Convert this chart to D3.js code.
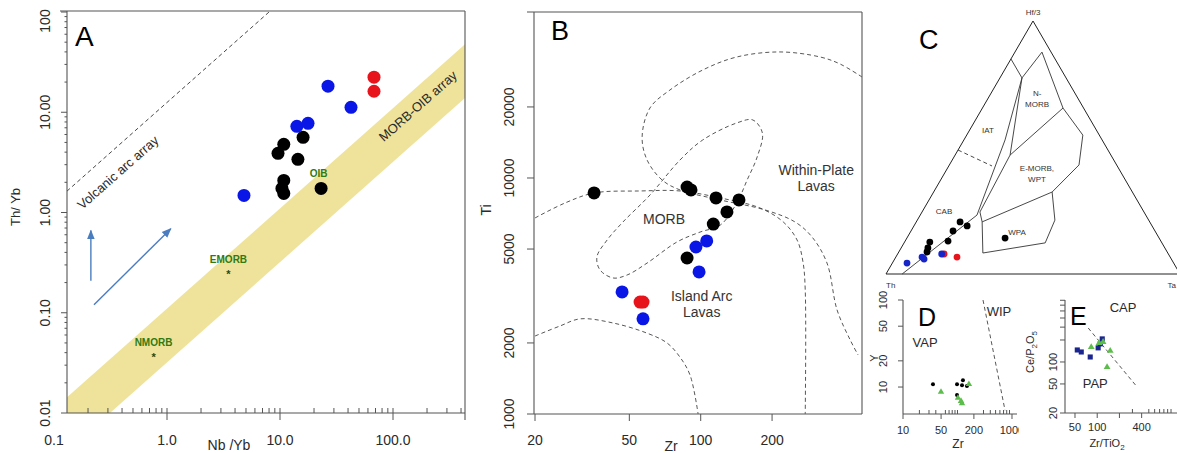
<!DOCTYPE html>
<html>
<head>
<meta charset="UTF-8">
<title>Discrimination diagrams A-E</title>
<script src="https://d3js.org/d3.v7.min.js"></script>
<style>
  body { margin: 0; background: #fff; }
  svg { display: block; font-family: "Liberation Sans", Arial, sans-serif; }
</style>
</head>
<body>
<svg id="fig" width="1177" height="453"></svg>
<script>
// ---------------- data ----------------
// Panel A : Th/Yb vs Nb/Yb  [Nb/Yb, Th/Yb]
const aBlack = [[10.8,4.79],[9.6,3.89],[16.0,5.62],[14.4,3.39],[10.8,2.09],[10.4,1.74],[10.8,1.55],[23.1,1.74]];
const aBlue  = [[4.8,1.48],[26.6,18.2],[42.5,11.2],[14.1,7.24],[17.7,7.76]];
const aRed   = [[67.9,22.4],[67.9,16.2]];
const aRefNames = ["NMORB","EMORB","OIB"];
const aRefPts   = [[0.76,0.037],[3.5,0.25],[22,1.76]];
const aBand = [[0.12,0.01],[0.12,0.0132],[434,47.7],[434,13.9],[0.313,0.01]];
const aArcLine = [[0.13,1.63],[8,100]];
const aArrows = [[[0.212,0.209],[0.212,0.66]], [[0.226,0.12],[1.08,0.69]]];
const aXTicks = [0.1, 1, 10, 100];
const aXLabels = ["0.1","1.0","10.0","100.0"];
const aYTicks = [0.01, 0.1, 1, 10, 100];
const aYLabels = ["0.01","0.10","1.00","10.00","100"];

// Panel B : Ti vs Zr  [Zr, Ti]
const bBlack = [[35.5,8640],[87.6,9160],[91,8900],[116,8230],[145,8070],[129,7180],[113,6380],[87.6,4580]];
const bBlue  = [[95.5,5100],[106,5410],[98.4,4000],[46.6,3290],[57.1,2530]];
const bRed   = [[55.5,2980],[57.1,2980]];
const bArcTop = [[20,6770],[26.8,7840],[35.5,8640],[55.5,8810],[81.8,8810],[121,8230],[178,7460],[223,6510],[255,5460],[270,4410],[276,3350],[276,1000]];
const bWithinPlate = [[479,26790],[387,30410],[319,32560],[216,34200],[142,32560],[102,28680],[74.2,23600],[61.1,19800],[56.6,14920],[59.4,11920],[68.7,9810],[81.8,8900],[121,8070],[187,7320],[250,6510],[295,5620],[341,4360],[376,2760],[427,2060],[461,1780]];
const bMorb = [[47.0,6510],[40.3,5460],[36.5,4630],[37.6,4080],[42.7,3770],[48.9,3880],[59.4,4360],[79.5,5360],[99.4,5900],[121,6320],[142,7840],[157,9810],[173,12270],[182,15510],[166,17610],[142,17110],[102,14490],[81.8,11920],[61.1,8470]];
const bArcLow = [[20,2140],[25.5,2360],[31.0,2530],[42.7,2430],[59.4,2200],[72.1,2000],[81.8,1740],[90.2,1460],[97.5,1000]];
const bXTicks = [20, 50, 100, 200];
const bYTicks = [1000, 2000, 5000, 10000, 20000];

// Panel C : ternary Hf/3 - Th - Ta   [Hf/3 fraction, Ta fraction]
const cBlack = [[0.206,0.149],[0.190,0.181],[0.170,0.143],[0.130,0.146],[0.126,0.086],[0.103,0.091],[0.087,0.096],[0.142,0.334]];
const cRed   = [[0.079,0.158],[0.067,0.208]];
const cBlue  = [[0.043,0.050],[0.067,0.089],[0.059,0.100],[0.079,0.150]];
const cLines = [
  [[0.850,0.000],[0.775,0.075],[0.877,0.092],[0.656,0.274],[0.549,0.395],[0.431,0.441],[0.324,0.403]],
  [[0.656,0.274],[0.470,0.187]],
  [[0.775,0.075],[0.530,0.140],[0.233,0.193],[0.000,0.055]],
  [[0.775,0.075],[0.470,0.187],[0.245,0.197],[0.206,0.224]],
  [[0.324,0.403],[0.213,0.468],[0.123,0.480],[0.083,0.288],[0.206,0.224],[0.324,0.403]]
];
const cDashed = [[0.490,0.000],[0.427,0.147]];
const cFieldNames = [["IAT"],["N-","MORB"],["E-MORB,","WPT"],["CAB"],["WPA"]];
const cFieldPos   = [[0.569,0.062],[0.696,0.166],[0.399,0.314],[0.249,0.073],[0.166,0.363]];

// Panel D : Y vs Zr  [Zr, Y]
const dBlack = [[35.5,10.8],[98,10.8],[126,12.0],[121,10.5],[149,10.3],[98,8.1]];
const dGreen = [[49.8,8.8],[162,10.8],[102,7.5],[116,6.9],[121,6.5]];
const dLine  = [[294,100],[745,5.4]];
const dXTicks = [10, 50, 200, 1000];
const dXLabels = ["10","50","200","1000"];
const dYTicks = [10, 20, 50, 100];

// Panel E : Ce/P2O5 vs Zr/TiO2  [Zr/TiO2, Ce/P2O5]
const eBlue  = [[53.7,146],[60.8,137],[80.4,117],[103,156],[117,207],[110,177]];
const eGreen = [[83,160],[106,182],[120,188],[150,142],[136,85]];
const eLine  = [[75.5,292],[347,45.5]];
const eXTicks = [50, 100, 400];
const eYTicks = [20, 50, 100];

// ---------------- helpers ----------------
const svg = d3.select("#fig");
svg.append("rect").attr("width", 1177).attr("height", 453).attr("fill", "#fff");
const defs = svg.append("defs");
const axisColor = "#555";
const textColor = "#2a2a2a";
const BLUE = "#0a16e6", RED = "#e8141b", GREEN_TXT = "#2f7a12", GREEN_PT = "#5cbd4c";

function decadeTicks(lo, hi) {
  const out = [];
  for (let e = Math.floor(Math.log10(lo)); e <= Math.ceil(Math.log10(hi)); e++)
    for (let m = 1; m < 10; m++) {
      const v = +(m * Math.pow(10, e)).toPrecision(6);
      if (v >= lo && v <= hi) out.push(v);
    }
  return out;
}
function line(g, x1, y1, x2, y2, w) {
  return g.append("line").attr("x1", x1).attr("y1", y1).attr("x2", x2).attr("y2", y2)
    .attr("stroke", axisColor).attr("stroke-width", w || 1.1);
}
function vTicks(g, scale, vals, y1, y2) {
  g.selectAll(null).data(vals).join("line")
    .attr("x1", d => scale(d)).attr("x2", d => scale(d))
    .attr("y1", y1).attr("y2", y2).attr("stroke", axisColor);
}
function hTicks(g, scale, vals, x1, x2) {
  g.selectAll(null).data(vals).join("line")
    .attr("y1", d => scale(d)).attr("y2", d => scale(d))
    .attr("x1", x1).attr("x2", x2).attr("stroke", axisColor);
}
function xLabels(g, scale, vals, labels, y, size) {
  g.selectAll(null).data(vals).join("text")
    .attr("x", d => scale(d)).attr("y", y)
    .attr("text-anchor", "middle").attr("font-size", size).attr("fill", textColor)
    .text((d, i) => labels[i]);
}
function yLabels(g, scale, vals, labels, x, size, minY) {
  g.selectAll(null).data(vals).join("text")
    .attr("transform", d => `translate(${x},${Math.max(scale(d), minY)}) rotate(-90)`)
    .attr("text-anchor", "middle").attr("dominant-baseline", "central")
    .attr("font-size", size).attr("fill", textColor)
    .text((d, i) => labels[i]);
}
function dots(g, pts, sx, sy, r, color) {
  g.selectAll(null).data(pts).join("circle")
    .attr("cx", d => sx(d[0])).attr("cy", d => sy(d[1])).attr("r", r).attr("fill", color);
}
function clip(id, x, y, w, h) {
  defs.append("clipPath").attr("id", id).append("rect")
    .attr("x", x).attr("y", y).attr("width", w).attr("height", h);
  return `url(#${id})`;
}
defs.append("marker").attr("id", "arrow").attr("viewBox", "0 0 10 10")
  .attr("refX", 9).attr("refY", 5).attr("markerWidth", 7).attr("markerHeight", 7)
  .attr("orient", "auto-start-reverse")
  .append("path").attr("d", "M0,1 L10,5 L0,9 z").attr("fill", "#4a7cc0");

// ---------------- Panel A ----------------
const gA = svg.append("g");
const xA = d3.scaleLog([0.1, 433.6], [54, 465]);
const yA = d3.scaleLog([0.01, 100], [413, 12]);
const pA = gA.append("g").attr("clip-path", clip("clipA", 67, 11, 398, 402));
const lineA = d3.line().x(d => xA(d[0])).y(d => yA(d[1]));

pA.append("path").attr("d", lineA(aBand) + "Z").attr("fill", "#efe39b");
pA.append("path").attr("d", lineA(aArcLine)).attr("fill", "none")
  .attr("stroke", "#333").attr("stroke-width", 0.9).attr("stroke-dasharray", "4,3");
pA.selectAll(null).data(aArrows).join("path")
  .attr("d", d => lineA(d)).attr("stroke", "#4a7cc0").attr("stroke-width", 1.4)
  .attr("fill", "none").attr("marker-end", "url(#arrow)");

// reference compositions
pA.selectAll(null).data(aRefPts).join("text")
  .attr("x", d => xA(d[0])).attr("y", d => yA(d[1]) + 5)
  .attr("text-anchor", "middle").attr("font-size", 11).attr("font-weight", "bold")
  .attr("fill", "#1e4d10").text("*");
pA.selectAll(null).data(aRefPts).join("text")
  .attr("x", d => xA(d[0])).attr("y", (d, i) => yA(d[1]) - (i === 2 ? 11 : 10))
  .attr("text-anchor", "middle").attr("font-size", 10).attr("font-weight", "bold")
  .attr("fill", GREEN_TXT).text((d, i) => aRefNames[i]);

pA.append("text").attr("transform", `translate(${xA(0.368)},${yA(2.51)}) rotate(-41.5)`)
  .attr("text-anchor", "middle").attr("dominant-baseline", "central")
  .attr("font-size", 13).attr("fill", textColor).text("Volcanic arc array");
pA.append("text").attr("transform", `translate(${xA(166)},${yA(11.5)}) rotate(-41.5)`)
  .attr("text-anchor", "middle").attr("dominant-baseline", "central")
  .attr("font-size", 13).attr("fill", textColor).text("MORB-OIB array");

dots(pA, aBlack, xA, yA, 6.5, "#000");
dots(pA, aBlue, xA, yA, 6.5, BLUE);
dots(pA, aRed, xA, yA, 6.5, RED);

line(gA, 60, 11, 465, 11);
line(gA, 465, 11, 465, 420);
line(gA, 67, 11, 67, 413);
line(gA, 67, 413, 465, 413);
hTicks(gA, yA, aYTicks, 61, 67);
hTicks(gA, yA, decadeTicks(0.01, 100).filter(v => !aYTicks.includes(v)), 64.5, 67);
vTicks(gA, xA, [1, 10, 100], 408, 420);
vTicks(gA, xA, decadeTicks(0.14, 433).filter(v => ![1, 10, 100].includes(v)), 408, 413);
xLabels(gA, xA, aXTicks, aXLabels, 445, 14);
yLabels(gA, yA, aYTicks, aYLabels, 45, 14, 21);
gA.append("text").attr("x", 75).attr("y", 46).attr("font-size", 28).attr("fill", "#000").text("A");
gA.append("text").attr("transform", "translate(15,207) rotate(-90)")
  .attr("text-anchor", "middle").attr("dominant-baseline", "central")
  .attr("font-size", 13).attr("fill", textColor).text("Th/ Yb");
gA.append("text").attr("x", 229).attr("y", 450).attr("text-anchor", "middle")
  .attr("font-size", 14).attr("fill", textColor).text("Nb /Yb");

// ---------------- Panel B ----------------
const gB = svg.append("g");
const xB = d3.scaleLog([20, 479], [535, 862]);
const yB = d3.scaleLog([1000, 50500], [414, 12]);
const pB = gB.append("g").attr("clip-path", clip("clipB", 534, 12, 328, 402));
const curveB = d3.line().x(d => xB(d[0])).y(d => yB(d[1])).curve(d3.curveCatmullRom.alpha(0.5));
const loopB = d3.line().x(d => xB(d[0])).y(d => yB(d[1])).curve(d3.curveCatmullRomClosed.alpha(0.5));
[bArcTop, bWithinPlate, bArcLow].forEach(c => {
  pB.append("path").attr("d", curveB(c)).attr("fill", "none")
    .attr("stroke", "#444").attr("stroke-width", 0.9).attr("stroke-dasharray", "4,3");
});
pB.append("path").attr("d", loopB(bMorb)).attr("fill", "none")
  .attr("stroke", "#444").attr("stroke-width", 0.9).attr("stroke-dasharray", "4,3");

const bText = (lines, pos) => {
  const t = pB.append("text").attr("x", xB(pos[0])).attr("y", yB(pos[1]))
    .attr("text-anchor", "middle").attr("font-size", 14).attr("fill", "#333");
  lines.forEach((s, i) => t.append("tspan").attr("x", xB(pos[0])).attr("dy", i ? 16 : 0).text(s));
};
bText(["MORB"], [70, 6400]);
bText(["Within-Plate", "Lavas"], [307, 10300]);
bText(["Island Arc", "Lavas"], [101, 3000]);

dots(pB, bBlack, xB, yB, 6.5, "#000");
dots(pB, bBlue, xB, yB, 6.5, BLUE);
dots(pB, bRed, xB, yB, 6.5, RED);

line(gB, 527, 12, 862, 12);
line(gB, 862, 12, 862, 414);
line(gB, 534, 12, 534, 414);
line(gB, 534, 414, 862, 414);
hTicks(gB, yB, bYTicks, 527, 534);
vTicks(gB, xB, bXTicks, 414, 421);
xLabels(gB, xB, bXTicks, bXTicks.map(String), 445, 14);
yLabels(gB, yB, bYTicks, bYTicks.map(String), 509, 14, 0);
gB.append("text").attr("x", 551).attr("y", 40).attr("font-size", 27).attr("fill", "#000").text("B");
gB.append("text").attr("transform", "translate(486,210) rotate(-90)")
  .attr("text-anchor", "middle").attr("dominant-baseline", "central")
  .attr("font-size", 14).attr("fill", textColor).text("Ti");
gB.append("text").attr("x", 671).attr("y", 451).attr("text-anchor", "middle")
  .attr("font-size", 14).attr("fill", textColor).text("Zr");

// ---------------- Panel C ----------------
const gC = svg.append("g");
const tx = d3.scaleLinear([0, 1], [886, 1180]);
const ty = d3.scaleLinear([0, 1], [274, 21]);
const tern = d3.line().x(d => tx(d[1] + d[0] / 2)).y(d => ty(d[0]));
gC.append("path").attr("d", tern([[0, 0], [1, 0], [0, 1]]) + "Z")
  .attr("fill", "none").attr("stroke", "#222").attr("stroke-width", 1);
cLines.forEach(l => gC.append("path").attr("d", tern(l)).attr("fill", "none")
  .attr("stroke", "#333").attr("stroke-width", 0.9));
gC.append("path").attr("d", tern(cDashed)).attr("fill", "none")
  .attr("stroke", "#333").attr("stroke-width", 0.9).attr("stroke-dasharray", "4,3");
cFieldNames.forEach((lines, i) => {
  const p = cFieldPos[i];
  const t = gC.append("text").attr("x", tx(p[1] + p[0] / 2)).attr("y", ty(p[0]) + 3 - (lines.length - 1) * 5)
    .attr("text-anchor", "middle").attr("font-size", 8).attr("fill", "#333");
  lines.forEach((s, j) => t.append("tspan").attr("x", tx(p[1] + p[0] / 2)).attr("dy", j ? 11 : 0).text(s));
});
const tdots = (pts, color) => gC.selectAll(null).data(pts).join("circle")
  .attr("cx", d => tx(d[1] + d[0] / 2)).attr("cy", d => ty(d[0])).attr("r", 3.4).attr("fill", color);
tdots(cBlack, "#000");
tdots(cRed, RED);
tdots(cBlue, "#1624c8");
gC.append("text").attr("x", tx(0.5)).attr("y", 15).attr("text-anchor", "middle")
  .attr("font-size", 8).attr("fill", "#333").text("Hf/3");
gC.append("text").attr("x", tx(0)).attr("y", 288).attr("font-size", 8).attr("fill", "#333").text("Th");
gC.append("text").attr("x", 1176).attr("y", 288).attr("text-anchor", "end")
  .attr("font-size", 8).attr("fill", "#333").text("Ta");
gC.append("text").attr("x", 919).attr("y", 49).attr("font-size", 27).attr("fill", "#000").text("C");

// ---------------- Panel D ----------------
const gD = svg.append("g").attr("clip-path", clip("clipD", 860, 290, 159, 163));
const xD = d3.scaleLog([10, 1236], [903, 1017]);
const yD = d3.scaleLog([4.9, 100], [414, 300]);
gD.append("path").attr("d", d3.line().x(d => xD(d[0])).y(d => yD(d[1]))(dLine))
  .attr("fill", "none").attr("stroke", "#444").attr("stroke-width", 0.9).attr("stroke-dasharray", "4,3");
dots(gD, dBlack, xD, yD, 2, "#000");
gD.selectAll(null).data(dGreen).join("path")
  .attr("transform", d => `translate(${xD(d[0])},${yD(d[1])})`)
  .attr("d", d3.symbol(d3.symbolTriangle, 18)).attr("fill", GREEN_PT);
line(gD, 903, 300, 903, 414);
line(gD, 903, 414, 1017, 414);
hTicks(gD, yD, dYTicks, 898, 903);
vTicks(gD, xD, dXTicks, 414, 419);
vTicks(gD, xD, decadeTicks(11, 1236).filter(v => !dXTicks.includes(v)), 410, 414);
xLabels(gD, xD, dXTicks, dXLabels, 434, 11);
yLabels(gD, yD, dYTicks, dYTicks.map(String), 883, 11, 0);
gD.append("text").attr("x", 918).attr("y", 326).attr("font-size", 25).attr("fill", "#000").text("D");
gD.append("text").attr("x", xD(25.4)).attr("y", yD(32.9)).attr("text-anchor", "middle")
  .attr("dominant-baseline", "central").attr("font-size", 13).attr("fill", textColor).text("VAP");
gD.append("text").attr("x", xD(577)).attr("y", yD(72.8)).attr("text-anchor", "middle")
  .attr("dominant-baseline", "central").attr("font-size", 13).attr("fill", textColor).text("WIP");
gD.append("text").attr("transform", "translate(874,358) rotate(-90)")
  .attr("text-anchor", "middle").attr("dominant-baseline", "central")
  .attr("font-size", 11).attr("fill", textColor).text("Y");
gD.append("text").attr("x", 958).attr("y", 448).attr("text-anchor", "middle")
  .attr("font-size", 12).attr("fill", textColor).text("Zr");

// ---------------- Panel E ----------------
const gE = svg.append("g");
const xE = d3.scaleLog([36.6, 1205], [1065, 1177]);
const yE = d3.scaleLog([20, 706], [413, 300]);
gE.append("path").attr("d", d3.line().x(d => xE(d[0])).y(d => yE(d[1]))(eLine))
  .attr("fill", "none").attr("stroke", "#444").attr("stroke-width", 0.9).attr("stroke-dasharray", "4,3");
gE.selectAll(null).data(eBlue).join("path")
  .attr("transform", d => `translate(${xE(d[0])},${yE(d[1])})`)
  .attr("d", d3.symbol(d3.symbolSquare, 26)).attr("fill", "#1a2590");
gE.selectAll(null).data(eGreen).join("path")
  .attr("transform", d => `translate(${xE(d[0])},${yE(d[1])})`)
  .attr("d", d3.symbol(d3.symbolTriangle, 20)).attr("fill", GREEN_PT);
line(gE, 1065, 300, 1065, 413);
line(gE, 1065, 413, 1177, 413);
hTicks(gE, yE, decadeTicks(20, 706).filter(v => v === 20 || v === 50 || v >= 100), 1060, 1065);
vTicks(gE, xE, [50, 100, 200, 400], 413, 418);
vTicks(gE, xE, [300, 500, 600, 700, 800, 900, 1000], 409, 413);
xLabels(gE, xE, eXTicks, eXTicks.map(String), 431, 11);
yLabels(gE, yE, eYTicks, eYTicks.map(String), 1053, 11, 0);
gE.append("text").attr("x", 1070).attr("y", 325).attr("font-size", 25).attr("fill", "#000").text("E");
gE.append("text").attr("x", xE(224)).attr("y", yE(566)).attr("text-anchor", "middle")
  .attr("dominant-baseline", "central").attr("font-size", 13).attr("fill", textColor).text("CAP");
gE.append("text").attr("x", xE(94)).attr("y", yE(51.5)).attr("text-anchor", "middle")
  .attr("dominant-baseline", "central").attr("font-size", 13).attr("fill", textColor).text("PAP");
const eyl = gE.append("text").attr("transform", "translate(1034,352) rotate(-90)")
  .attr("text-anchor", "middle").attr("font-size", 11).attr("fill", textColor);
eyl.append("tspan").text("Ce/P");
eyl.append("tspan").attr("font-size", 8).attr("dy", 3).text("2");
eyl.append("tspan").attr("dy", -3).text("O");
eyl.append("tspan").attr("font-size", 8).attr("dy", 3).text("5");
const exl = gE.append("text").attr("x", 1107).attr("y", 447).attr("text-anchor", "middle")
  .attr("font-size", 11).attr("fill", textColor);
exl.append("tspan").text("Zr/TiO");
exl.append("tspan").attr("font-size", 8).attr("dy", 3).text("2");
</script>
</body>
</html>
